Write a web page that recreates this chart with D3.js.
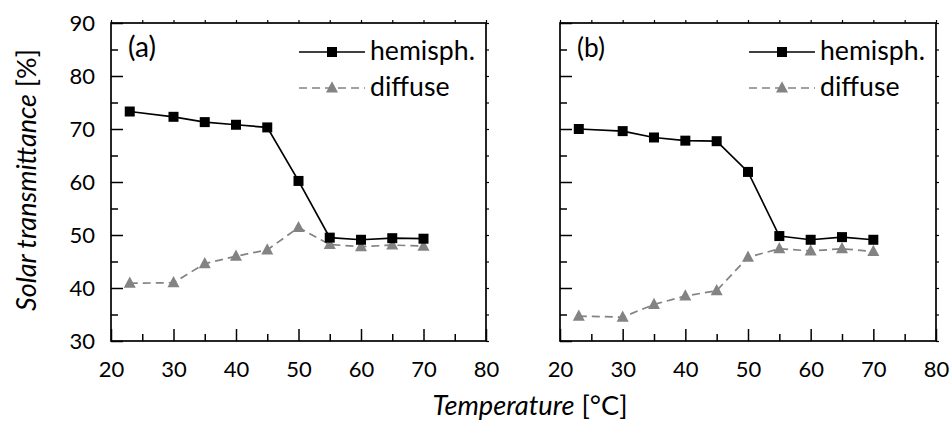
<!DOCTYPE html>
<html><head><meta charset="utf-8">
<script src="https://cdn.jsdelivr.net/npm/d3@7"></script>
<style>body{margin:0;background:#fff}svg{display:block}text{font-family:Lato,"Open Sans",sans-serif;fill:#000}</style>
</head><body><svg id="c" width="950" height="421"></svg>
<script>
const temps = [23, 30, 35, 40, 45, 50, 55, 60, 65, 70];
const hemiA = [73.3, 72.3, 71.3, 70.8, 70.3, 60.2, 49.5, 49.1, 49.4, 49.3];
const diffA = [40.9, 41.0, 44.6, 46.0, 47.2, 51.4, 48.2, 47.8, 48.1, 47.9];
const hemiB = [70.0, 69.6, 68.4, 67.8, 67.7, 61.9, 49.8, 49.1, 49.6, 49.1];
const diffB = [34.7, 34.5, 36.9, 38.5, 39.5, 45.8, 47.4, 47.0, 47.4, 46.9];
const panelLabels = ["(a)", "(b)"];
const seriesNames = ["hemisph.", "diffuse"];
const xMajor = [20, 30, 40, 50, 60, 70, 80];
const xMinor = [25, 35, 45, 55, 65, 75];
const yMajor = [30, 40, 50, 60, 70, 80, 90];
const yMinor = [35, 45, 55, 65, 75, 85];

const svg = d3.select("#c");
const yTop = 23, yBot = 341;
const panels = [
  {x0: 111, x1: 486, hemi: hemiA, diff: diffA, label: panelLabels[0], yLabels: true},
  {x0: 560, x1: 936, hemi: hemiB, diff: diffB, label: panelLabels[1], yLabels: false}
];
const y = d3.scaleLinear().domain([30, 90]).range([yBot, yTop]);
const gray = "#838383";
const tickFont = 22;

function fitSize(sel, base, target) {
  sel.attr("font-size", base);
  const w = sel.node().getComputedTextLength();
  sel.attr("font-size", base * target / w);
}

function triangle(g, cx, cy, s) {
  const h = s * 0.9;
  g.append("path").attr("d", `M${cx},${cy - h*0.62}L${cx + s/2},${cy + h*0.42}L${cx - s/2},${cy + h*0.42}Z`)
    .attr("fill", gray);
}

panels.forEach(p => {
  const x = d3.scaleLinear().domain([20, 80]).range([p.x0, p.x1]);
  const g = svg.append("g");
  g.append("rect").attr("x", p.x0).attr("y", yTop).attr("width", p.x1 - p.x0).attr("height", yBot - yTop)
    .attr("fill", "none").attr("stroke", "#000").attr("stroke-width", 1.7);
  const gx = g.append("g").attr("transform", `translate(0,${yBot})`)
    .call(d3.axisBottom(x).tickValues(xMajor).tickSize(-12).tickPadding(36).tickFormat(d3.format("d")));
  gx.select(".domain").remove();
  gx.selectAll("line").attr("stroke-width", 1.5);
  gx.selectAll("text").attr("font-size", tickFont).attr("dy", "0");
  const gxm = g.append("g").attr("transform", `translate(0,${yBot})`)
    .call(d3.axisBottom(x).tickValues(xMinor).tickSize(-7).tickFormat(""));
  gxm.select(".domain").remove();
  gxm.selectAll("line").attr("stroke-width", 1.5);
  const gt = g.append("g").attr("transform", `translate(0,${yTop})`)
    .call(d3.axisTop(x).tickValues(xMajor.concat(xMinor)).tickSize(3).tickFormat(""));
  gt.select(".domain").remove();
  gt.selectAll("line").attr("stroke-width", 1.2);
  const gy = g.append("g").attr("transform", `translate(${p.x0},0)`)
    .call(d3.axisLeft(y).tickValues(yMajor).tickSize(-12).tickPadding(16)
      .tickFormat(p.yLabels ? d3.format("d") : ""));
  gy.select(".domain").remove();
  gy.selectAll("line").attr("stroke-width", 1.5);
  gy.selectAll("text").attr("font-size", tickFont);
  const gym = g.append("g").attr("transform", `translate(${p.x0},0)`)
    .call(d3.axisLeft(y).tickValues(yMinor).tickSize(-7).tickFormat(""));
  gym.select(".domain").remove();
  gym.selectAll("line").attr("stroke-width", 1.5);
  const gr = g.append("g").attr("transform", `translate(${p.x1},0)`)
    .call(d3.axisRight(y).tickValues(yMajor.concat(yMinor)).tickSize(3).tickFormat(""));
  gr.select(".domain").remove();
  gr.selectAll("line").attr("stroke-width", 1.2);

  const line = d3.line().x((d, i) => x(temps[i])).y(d => y(d));
  g.append("path").datum(p.diff).attr("d", line).attr("fill", "none")
    .attr("stroke", gray).attr("stroke-width", 1.7).attr("stroke-dasharray", "8,5");
  p.diff.forEach((d, i) => triangle(g, x(temps[i]), y(d), 12));
  g.append("path").datum(p.hemi).attr("d", line).attr("fill", "none")
    .attr("stroke", "#000").attr("stroke-width", 1.7);
  g.selectAll(".sq").data(p.hemi).enter().append("rect")
    .attr("x", (d, i) => x(temps[i]) - 5).attr("y", d => y(d) - 5)
    .attr("width", 10).attr("height", 10).attr("fill", "#000");

  const pl = g.append("text").attr("x", p.x0 + 17).attr("y", 57).text(p.label);
  fitSize(pl, 26, 28);

  const lx0 = p.x1 - 187, lx1 = p.x1 - 121, tx = p.x1 - 116;
  g.append("line").attr("x1", lx0).attr("x2", lx1).attr("y1", 52).attr("y2", 52)
    .attr("stroke", "#000").attr("stroke-width", 1.7);
  g.append("rect").attr("x", (lx0 + lx1) / 2 - 5).attr("y", 47).attr("width", 10).attr("height", 10).attr("fill", "#000");
  const t1 = g.append("text").attr("x", tx).attr("y", 60).text(seriesNames[0]);
  fitSize(t1, 26, 105);
  g.append("line").attr("x1", lx0).attr("x2", lx1).attr("y1", 88).attr("y2", 88)
    .attr("stroke", gray).attr("stroke-width", 1.7).attr("stroke-dasharray", "8,5");
  triangle(g, (lx0 + lx1) / 2, 88, 12);
  const t2 = g.append("text").attr("x", tx).attr("y", 96).text(seriesNames[1]);
  t2.attr("font-size", t1.attr("font-size"));
});

const xt = svg.append("text").attr("x", 530).attr("y", 415).attr("text-anchor", "middle");
xt.append("tspan").attr("font-style", "italic").text("Temperature");
xt.append("tspan").text(" [°C]");
fitSize(xt, 23, 195);
const yt = svg.append("text").attr("transform", `translate(36,${(yTop + yBot) / 2 - 2}) rotate(-90)`)
  .attr("text-anchor", "middle");
yt.append("tspan").attr("font-style", "italic").text("Solar transmittance");
yt.append("tspan").text(" [%]");
fitSize(yt, 23, 262);
</script></body></html>
